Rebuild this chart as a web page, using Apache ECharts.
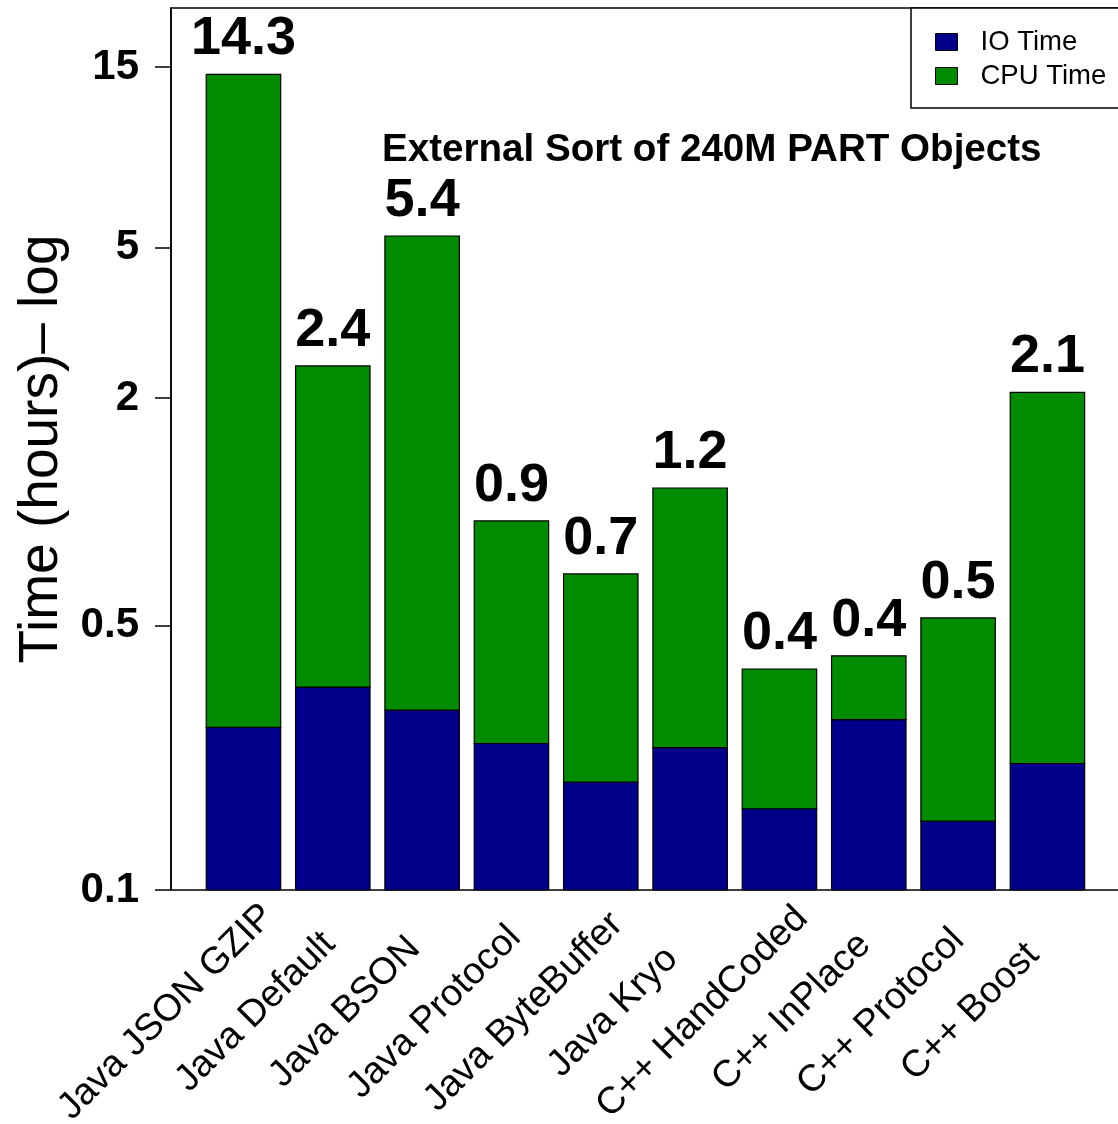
<!DOCTYPE html>
<html>
<head>
<meta charset="utf-8">
<script src="https://cdn.jsdelivr.net/npm/echarts@6/dist/echarts.min.js"></script>
<style>
  html, body { margin: 0; padding: 0; background: #fff; }
  #chart { width: 1118px; height: 1124px; }
</style>
</head>
<body>
<div id="chart"></div>
<script>
// Serialization benchmark: external sort of 240M PART objects (hours, log scale)
const categories = ['Java JSON GZIP', 'Java Default', 'Java BSON', 'Java Protocol', 'Java ByteBuffer',
                    'Java Kryo', 'C++ HandCoded', 'C++ InPlace', 'C++ Protocol', 'C++ Boost'];
const ioTime  = [0.269, 0.344, 0.299, 0.244, 0.193, 0.238, 0.164, 0.282, 0.152, 0.216];
const cpuTime = [14.07, 2.086, 5.061, 0.702, 0.492, 0.918, 0.220, 0.134, 0.372, 1.854];
const yTicks = [0.1, 0.5, 2, 5, 15];
const seriesNames = ['IO Time', 'CPU Time'];
const chartTitle = 'External Sort of 240M PART Objects';
const yAxisName = 'Time (hours)\u2013 log';

const Y_MIN = 0.1;
const Y_MAX = 21.48;
const BAR_FRACTION = 1 / 1.2;   // bar width relative to its slot (space = 0.2)
const FONT = "'Liberation Sans', Arial, Helvetica, sans-serif";
const COLORS = ['#00008B', '#008B00'];

// each bar segment is [categoryIndex, bottom, top]
const ioSegments = categories.map((c, i) => [i, Y_MIN, ioTime[i]]);
const cpuSegments = categories.map((c, i) => [i, ioTime[i], ioTime[i] + cpuTime[i]]);

function segmentRect(api, color) {
  const i = api.value(0);
  const pBottom = api.coord([i, api.value(1)]);
  const pTop = api.coord([i, api.value(2)]);
  const w = api.size([1, 0])[0] * BAR_FRACTION;
  return {
    type: 'rect',
    shape: { x: pTop[0] - w / 2, y: pTop[1], width: w, height: pBottom[1] - pTop[1] },
    style: { fill: color, stroke: '#000', lineWidth: 1.2 }
  };
}

const chart = echarts.init(document.getElementById('chart'), null, { renderer: 'canvas' });

chart.setOption({
  animation: false,
  backgroundColor: '#fff',
  title: {
    text: chartTitle,
    left: 382,
    top: 131,
    padding: 0,
    textStyle: { fontFamily: FONT, fontSize: 38.6, fontWeight: 'bold', color: '#000' }
  },
  legend: {
    data: seriesNames,
    orient: 'vertical',
    left: 911,
    top: 8,
    icon: 'rect',
    itemWidth: 22,
    itemHeight: 17,
    itemGap: 6,
    padding: [20, 20, 18, 24],
    borderColor: '#000',
    borderWidth: 1.5,
    backgroundColor: '#fff',
    itemStyle: { borderColor: '#000', borderWidth: 1 },
    textStyle: { fontFamily: FONT, fontSize: 27.5, color: '#000', padding: [0, 0, 0, 18] }
  },
  grid: [
    { // framed plot region
      left: 171, top: 8, right: -40, bottom: 234,
      show: true, borderColor: '#000', borderWidth: 1.5, backgroundColor: 'transparent',
      outerBoundsMode: 'none'
    },
    { // bar slots
      left: 198.8, right: 25.9, top: 8, bottom: 234,
      outerBoundsMode: 'none'
    }
  ],
  xAxis: [
    { gridIndex: 0, type: 'value', min: 0, max: 1, show: false },
    {
      gridIndex: 1,
      type: 'category',
      data: categories,
      axisLine: { show: false },
      axisTick: { show: false },
      axisLabel: {
        interval: 0,
        rotate: 45,
        align: 'center',
        verticalAlign: 'middle',
        margin: 45,
        padding: [0, 218, 0, 0],
        hideOverlap: false,
        fontFamily: FONT,
        fontSize: 37.5,
        color: '#000'
      }
    }
  ],
  yAxis: [
    {
      gridIndex: 0,
      type: 'log',
      logBase: 10,
      min: Y_MIN,
      max: Y_MAX,
      name: yAxisName,
      nameLocation: 'middle',
      nameGap: 101,
      nameTextStyle: { fontFamily: FONT, fontSize: 55, color: '#000' },
      axisLine: { show: true, lineStyle: { color: '#000', width: 1.5 } },
      axisTick: { show: true, length: 16, customValues: yTicks, lineStyle: { color: '#000', width: 1.5 } },
      axisLabel: {
        customValues: yTicks,
        margin: 32,
        fontFamily: FONT,
        fontSize: 42,
        fontWeight: 'bold',
        color: '#000',
        formatter: v => String(+Number(v).toPrecision(6))
      },
      splitLine: { show: false },
      minorTick: { show: false }
    },
    { gridIndex: 1, type: 'log', logBase: 10, min: Y_MIN, max: Y_MAX, show: false }
  ],
  series: [
    {
      name: seriesNames[0],
      type: 'custom',
      xAxisIndex: 1,
      yAxisIndex: 1,
      itemStyle: { color: COLORS[0] },
      encode: { x: 0, y: [1, 2] },
      data: ioSegments,
      renderItem: (params, api) => segmentRect(api, COLORS[0])
    },
    {
      name: seriesNames[1],
      type: 'custom',
      xAxisIndex: 1,
      yAxisIndex: 1,
      itemStyle: { color: COLORS[1] },
      encode: { x: 0, y: [1, 2] },
      data: cpuSegments,
      renderItem: (params, api) => {
        const rect = segmentRect(api, COLORS[1]);
        const total = api.value(2);
        const top = api.coord([api.value(0), total]);
        return {
          type: 'group',
          children: [
            rect,
            {
              type: 'text',
              x: top[0],
              y: top[1] - 8,
              style: {
                text: total.toFixed(1),
                fontFamily: FONT,
                fontSize: 54,
                fontWeight: 'bold',
                fill: '#000',
                align: 'center',
                verticalAlign: 'bottom'
              }
            }
          ]
        };
      }
    }
  ]
});
</script>
</body>
</html>
